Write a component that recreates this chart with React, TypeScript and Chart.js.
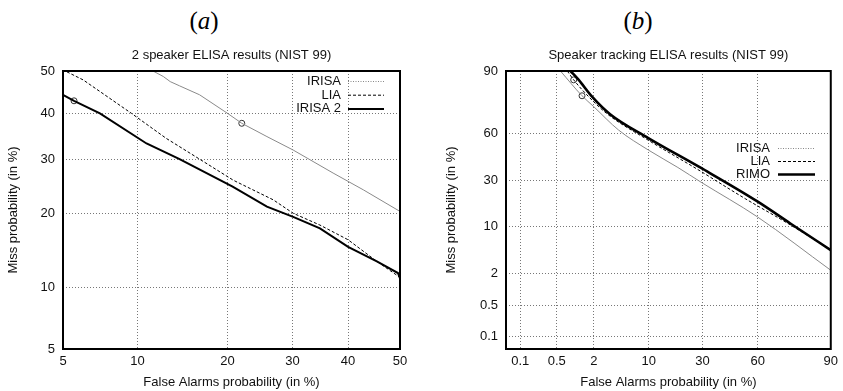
import React, { useEffect, useRef } from 'react';
import { Chart, Scale, registerables } from 'chart.js';

// ---------------- data (all values in %) ----------------
const LEFT_TICKS = [5, 10, 20, 30, 40, 50];
const RIGHT_TICKS = [0.1, 0.5, 2, 10, 30, 60, 90];

// panel (a): 2 speaker ELISA results (NIST 99)
const A_IRISA_FA = [11.4, 12.4, 13.1, 14.1, 16.4, 20.0, 22.0, 25.8, 30.1, 37.2, 42.9, 50.0];
const A_IRISA_MISS = [50.0, 48.7, 47.5, 46.5, 44.4, 40.1, 37.85, 34.9, 32.0, 27.3, 24.1, 20.3];
const A_LIA_FA = [5.2, 6.1, 9.5, 12.7, 16.4, 20.8, 26.8, 30.1, 34.8, 40.0, 45.5, 50.0];
const A_LIA_MISS = [49.8, 47.9, 40.1, 34.5, 30.1, 25.9, 22.3, 20.0, 18.1, 15.9, 13.0, 11.1];
const A_IRISA2_FA = [5.0, 5.58, 7.15, 10.8, 14.1, 20.7, 25.8, 30.1, 34.8, 40.0, 45.5, 49.6, 50.0];
const A_IRISA2_MISS = [44.4, 43.0, 40.1, 33.4, 30.1, 24.7, 21.1, 19.4, 17.6, 14.9, 13.0, 11.6, 11.0];
const A_IRISA_MARK = [22.0, 37.85];
const A_IRISA2_MARK = [5.58, 43.0];

// panel (b): Speaker tracking ELISA results (NIST 99)
const B_IRISA_FA = [0.58, 1.32, 2.0, 4.4, 9.9, 19.2, 29.3, 59.8, 90];
const B_IRISA_MISS = [90, 80.9, 75.6, 62.2, 49.3, 38.0, 29.2, 13.2, 2.3];
const B_LIA_FA = [0.76, 0.97, 1.67, 3.14, 9.4, 27.8, 53.4, 74.8, 90];
const B_LIA_MISS = [90, 87.2, 80.5, 71.6, 56.5, 36.7, 20.5, 11.15, 4.85];
const B_RIMO_FA = [0.86, 1.17, 1.88, 3.4, 9.9, 29.3, 59.8, 76.2, 90];
const B_RIMO_MISS = [90, 87.2, 80.5, 71.6, 57.1, 37.7, 19.4, 11.0, 4.8];
const B_IRISA_MARK = [1.32, 80.9];
const B_LIA_MARK = [0.97, 87.2];

// ---------------- probit scale ----------------
function probit(p: number): number {
  const a = [-3.969683028665376e1, 2.209460984245205e2, -2.759285104469687e2, 1.38357751867269e2, -3.066479806614716e1, 2.506628277459239];
  const b = [-5.447609879822406e1, 1.615858368580409e2, -1.556989798598866e2, 6.680131188771972e1, -1.328068155288572e1];
  const c = [-7.784894002430293e-3, -3.223964580411365e-1, -2.400758277161838, -2.549732539343734, 4.374664141464968, 2.938163982698783];
  const d = [7.784695709041462e-3, 3.224671290700398e-1, 2.445134137142996, 3.754408661907416];
  if (p <= 0) return -10;
  if (p >= 1) return 10;
  const plow = 0.02425;
  if (p < plow) {
    const q = Math.sqrt(-2 * Math.log(p));
    return (((((c[0] * q + c[1]) * q + c[2]) * q + c[3]) * q + c[4]) * q + c[5]) / ((((d[0] * q + d[1]) * q + d[2]) * q + d[3]) * q + 1);
  }
  if (p > 1 - plow) {
    const q = Math.sqrt(-2 * Math.log(1 - p));
    return -(((((c[0] * q + c[1]) * q + c[2]) * q + c[3]) * q + c[4]) * q + c[5]) / ((((d[0] * q + d[1]) * q + d[2]) * q + d[3]) * q + 1);
  }
  const q = p - 0.5;
  const r = q * q;
  return ((((((a[0] * r + a[1]) * r + a[2]) * r + a[3]) * r + a[4]) * r + a[5]) * q) / (((((b[0] * r + b[1]) * r + b[2]) * r + b[3]) * r + b[4]) * r + 1);
}
function normCdf(z: number): number {
  const t = 1 / (1 + 0.2316419 * Math.abs(z));
  const d = 0.3989423 * Math.exp((-z * z) / 2);
  const pr = d * t * (0.3193815 + t * (-0.3565638 + t * (1.781478 + t * (-1.821256 + t * 1.330274))));
  return z > 0 ? 1 - pr : pr;
}

class ProbitScale extends (Scale as any) {
  static id = 'probit';
  static defaults = {};
  determineDataLimits() {
    const { min, max } = this.getMinMax(true);
    this.min = this.options.min ?? min;
    this.max = this.options.max ?? max;
  }
  buildTicks() {
    return [];
  }
  getLabelForValue(v: number) {
    return String(v);
  }
  configure() {
    super.configure();
    this._pStart = probit(this.min / 100);
    this._pRange = probit(this.max / 100) - this._pStart;
  }
  getPixelForValue(v: number) {
    if (v === null || v === undefined || isNaN(v)) return NaN;
    return this.getPixelForDecimal((probit(v / 100) - this._pStart) / this._pRange);
  }
  getValueForPixel(px: number) {
    return 100 * normCdf(this._pStart + this.getDecimalForPixel(px) * this._pRange);
  }
  getPixelForTick(i: number) {
    const t = this.ticks;
    if (i < 0 || i > t.length - 1) return null;
    return this.getPixelForValue(t[i].value);
  }
}

Chart.register(...registerables, ProbitScale as any);

// ---------------- plugins ----------------
const FONT = "'Liberation Sans', Arial, Helvetica, sans-serif";
const TEXT = '#111';

const areaTitle = {
  id: 'areaTitle',
  afterDraw(chart: any, _a: any, opts: any) {
    const { ctx, chartArea } = chart;
    ctx.save();
    ctx.font = `13px ${FONT}`;
    ctx.fillStyle = TEXT;
    ctx.textAlign = 'center';
    ctx.textBaseline = 'middle';
    ctx.fillText(opts.text, (chartArea.left + chartArea.right) / 2, opts.y);
    ctx.restore();
  },
};

const frame = {
  id: 'frame',
  afterDatasetsDraw(chart: any) {
    const { ctx, chartArea: a } = chart;
    ctx.save();
    ctx.strokeStyle = '#000';
    ctx.lineWidth = 2;
    ctx.setLineDash([]);
    ctx.strokeRect(a.left, a.top, a.right - a.left, a.bottom - a.top);
    ctx.restore();
  },
};

const detLegend = {
  id: 'detLegend',
  afterDatasetsDraw(chart: any, _a: any, opts: any) {
    const { ctx } = chart;
    ctx.save();
    ctx.font = `13px ${FONT}`;
    ctx.textAlign = 'right';
    ctx.textBaseline = 'middle';
    let row = 0;
    chart.data.datasets.forEach((ds: any) => {
      if (!ds.label) return;
      const y = opts.y + row * opts.spacing;
      ctx.fillStyle = TEXT;
      ctx.fillText(ds.label, opts.textRight, y);
      ctx.beginPath();
      ctx.setLineDash(ds.legendDash ?? ds.borderDash ?? []);
      ctx.lineWidth = ds.borderWidth;
      ctx.strokeStyle = ds.legendColor ?? ds.borderColor;
      ctx.moveTo(opts.lineStart, y);
      ctx.lineTo(opts.lineEnd, y);
      ctx.stroke();
      row++;
    });
    ctx.restore();
  },
};

// ---------------- helpers ----------------
const zip = (xs: number[], ys: number[]) => xs.map((x, i) => ({ x, y: ys[i] }));

const irisaStyle = { borderColor: '#8a8a8a', borderWidth: 1, legendDash: [1, 1.5], legendColor: '#888' };
const liaStyle = { borderColor: '#000', borderWidth: 1, borderDash: [3, 2] };
const solidStyle = (w: number) => ({ borderColor: '#000', borderWidth: w });
const smooth = { cubicInterpolationMode: 'monotone' };
const mark = (pt: number[]) => ({
  label: '',
  data: [{ x: pt[0], y: pt[1] }],
  showLine: false,
  pointRadius: 3,
  pointBorderWidth: 1,
  pointBorderColor: '#333',
  pointBackgroundColor: 'rgba(0,0,0,0)',
});

function makeConfig(p: any) {
  const grid = { color: '#777', lineWidth: 1, drawTicks: false };
  const border = { display: false, dash: [1, 2] };
  const tickFont = { family: FONT, size: 13 };
  return {
    type: 'line',
    data: { datasets: p.datasets },
    options: {
      responsive: false,
      animation: false,
      devicePixelRatio: 1,
      events: [],
      layout: { padding: { left: 0, top: 71, right: p.padRight, bottom: 0 } },
      elements: { point: { radius: 0 }, line: { tension: 0 } },
      plugins: {
        legend: { display: false },
        tooltip: { enabled: false },
        areaTitle: { text: p.title, y: 55 },
        detLegend: p.legend,
      },
      scales: {
        x: {
          type: 'probit',
          min: p.min,
          max: p.max,
          afterBuildTicks: (s: any) => {
            s.ticks = p.ticks.map((v: number) => ({ value: v }));
          },
          afterFit: (s: any) => {
            s.height = 42;
          },
          grid,
          border,
          ticks: { autoSkip: false, maxRotation: 0, padding: 5, font: tickFont, color: TEXT, callback: (v: number) => String(v) },
          title: { display: true, text: 'False Alarms probability (in %)', font: tickFont, color: TEXT, padding: { top: 0, bottom: 1 } },
        },
        y: {
          type: 'probit',
          min: p.min,
          max: p.max,
          afterBuildTicks: (s: any) => {
            s.ticks = p.ticks.map((v: number) => ({ value: v }));
          },
          afterFit: (s: any) => {
            s.width = p.yWidth;
          },
          grid,
          border,
          ticks: { autoSkip: false, padding: 8, font: tickFont, color: TEXT, callback: (v: number) => String(v) },
          title: { display: true, text: 'Miss probability (in %)', font: tickFont, color: TEXT, padding: { top: p.yTitlePad, bottom: 0 } },
        },
      },
    },
    plugins: [areaTitle, detLegend, frame],
  };
}

const leftConfig = () =>
  makeConfig({
    title: '2 speaker ELISA results (NIST 99)',
    min: 5,
    max: 50,
    ticks: LEFT_TICKS,
    padRight: 21,
    yWidth: 63,
    yTitlePad: 6,
    legend: { textRight: 341, lineStart: 348, lineEnd: 384, y: 81.5, spacing: 13.7 },
    datasets: [
      { label: 'IRISA', data: zip(A_IRISA_FA, A_IRISA_MISS), ...irisaStyle },
      { label: 'LIA', data: zip(A_LIA_FA, A_LIA_MISS), ...liaStyle },
      { label: 'IRISA 2', data: zip(A_IRISA2_FA, A_IRISA2_MISS), ...solidStyle(2) },
      mark(A_IRISA_MARK),
      mark(A_IRISA2_MARK),
    ],
  });

const RIGHT_LEFT = 421;
const rightConfig = () =>
  makeConfig({
    title: 'Speaker tracking ELISA results (NIST 99)',
    min: 0.05,
    max: 90,
    ticks: RIGHT_TICKS,
    padRight: 9,
    yWidth: 85,
    yTitlePad: 23,
    legend: { textRight: 770 - RIGHT_LEFT, lineStart: 778 - RIGHT_LEFT, lineEnd: 815 - RIGHT_LEFT, y: 148.5, spacing: 13 },
    datasets: [
      { label: 'IRISA', data: zip(B_IRISA_FA, B_IRISA_MISS), ...irisaStyle, ...smooth },
      { label: 'LIA', data: zip(B_LIA_FA, B_LIA_MISS), ...liaStyle, ...smooth },
      { label: 'RIMO', data: zip(B_RIMO_FA, B_RIMO_MISS), ...solidStyle(2.6), ...smooth },
      mark(B_IRISA_MARK),
      mark(B_LIA_MARK),
    ],
  });

function Panel({ make, left, width }: { make: () => any; left: number; width: number }) {
  const ref = useRef<HTMLCanvasElement>(null);
  useEffect(() => {
    const chart = new Chart(ref.current as HTMLCanvasElement, make());
    return () => chart.destroy();
  }, []);
  return <canvas ref={ref} width={width} height={391} style={{ position: 'absolute', left, top: 0, width, height: 391, display: 'block' }} />;
}

const labelStyle = (cx: number): React.CSSProperties => ({
  position: 'absolute',
  left: cx - 40,
  top: 6,
  width: 80,
  textAlign: 'center',
  fontFamily: "'Liberation Serif', 'DejaVu Serif', serif",
  fontSize: 25,
  lineHeight: '30px',
  color: '#000',
});

export default function App() {
  return (
    <div style={{ position: 'absolute', left: 0, top: 0, width: 843, height: 391, background: '#fff', overflow: 'hidden' }}>
      <div style={labelStyle(204)}>
        (<i>a</i>)
      </div>
      <div style={labelStyle(638)}>
        (<i>b</i>)
      </div>
      <Panel make={leftConfig} left={0} width={421} />
      <Panel make={rightConfig} left={RIGHT_LEFT} width={422} />
    </div>
  );
}
